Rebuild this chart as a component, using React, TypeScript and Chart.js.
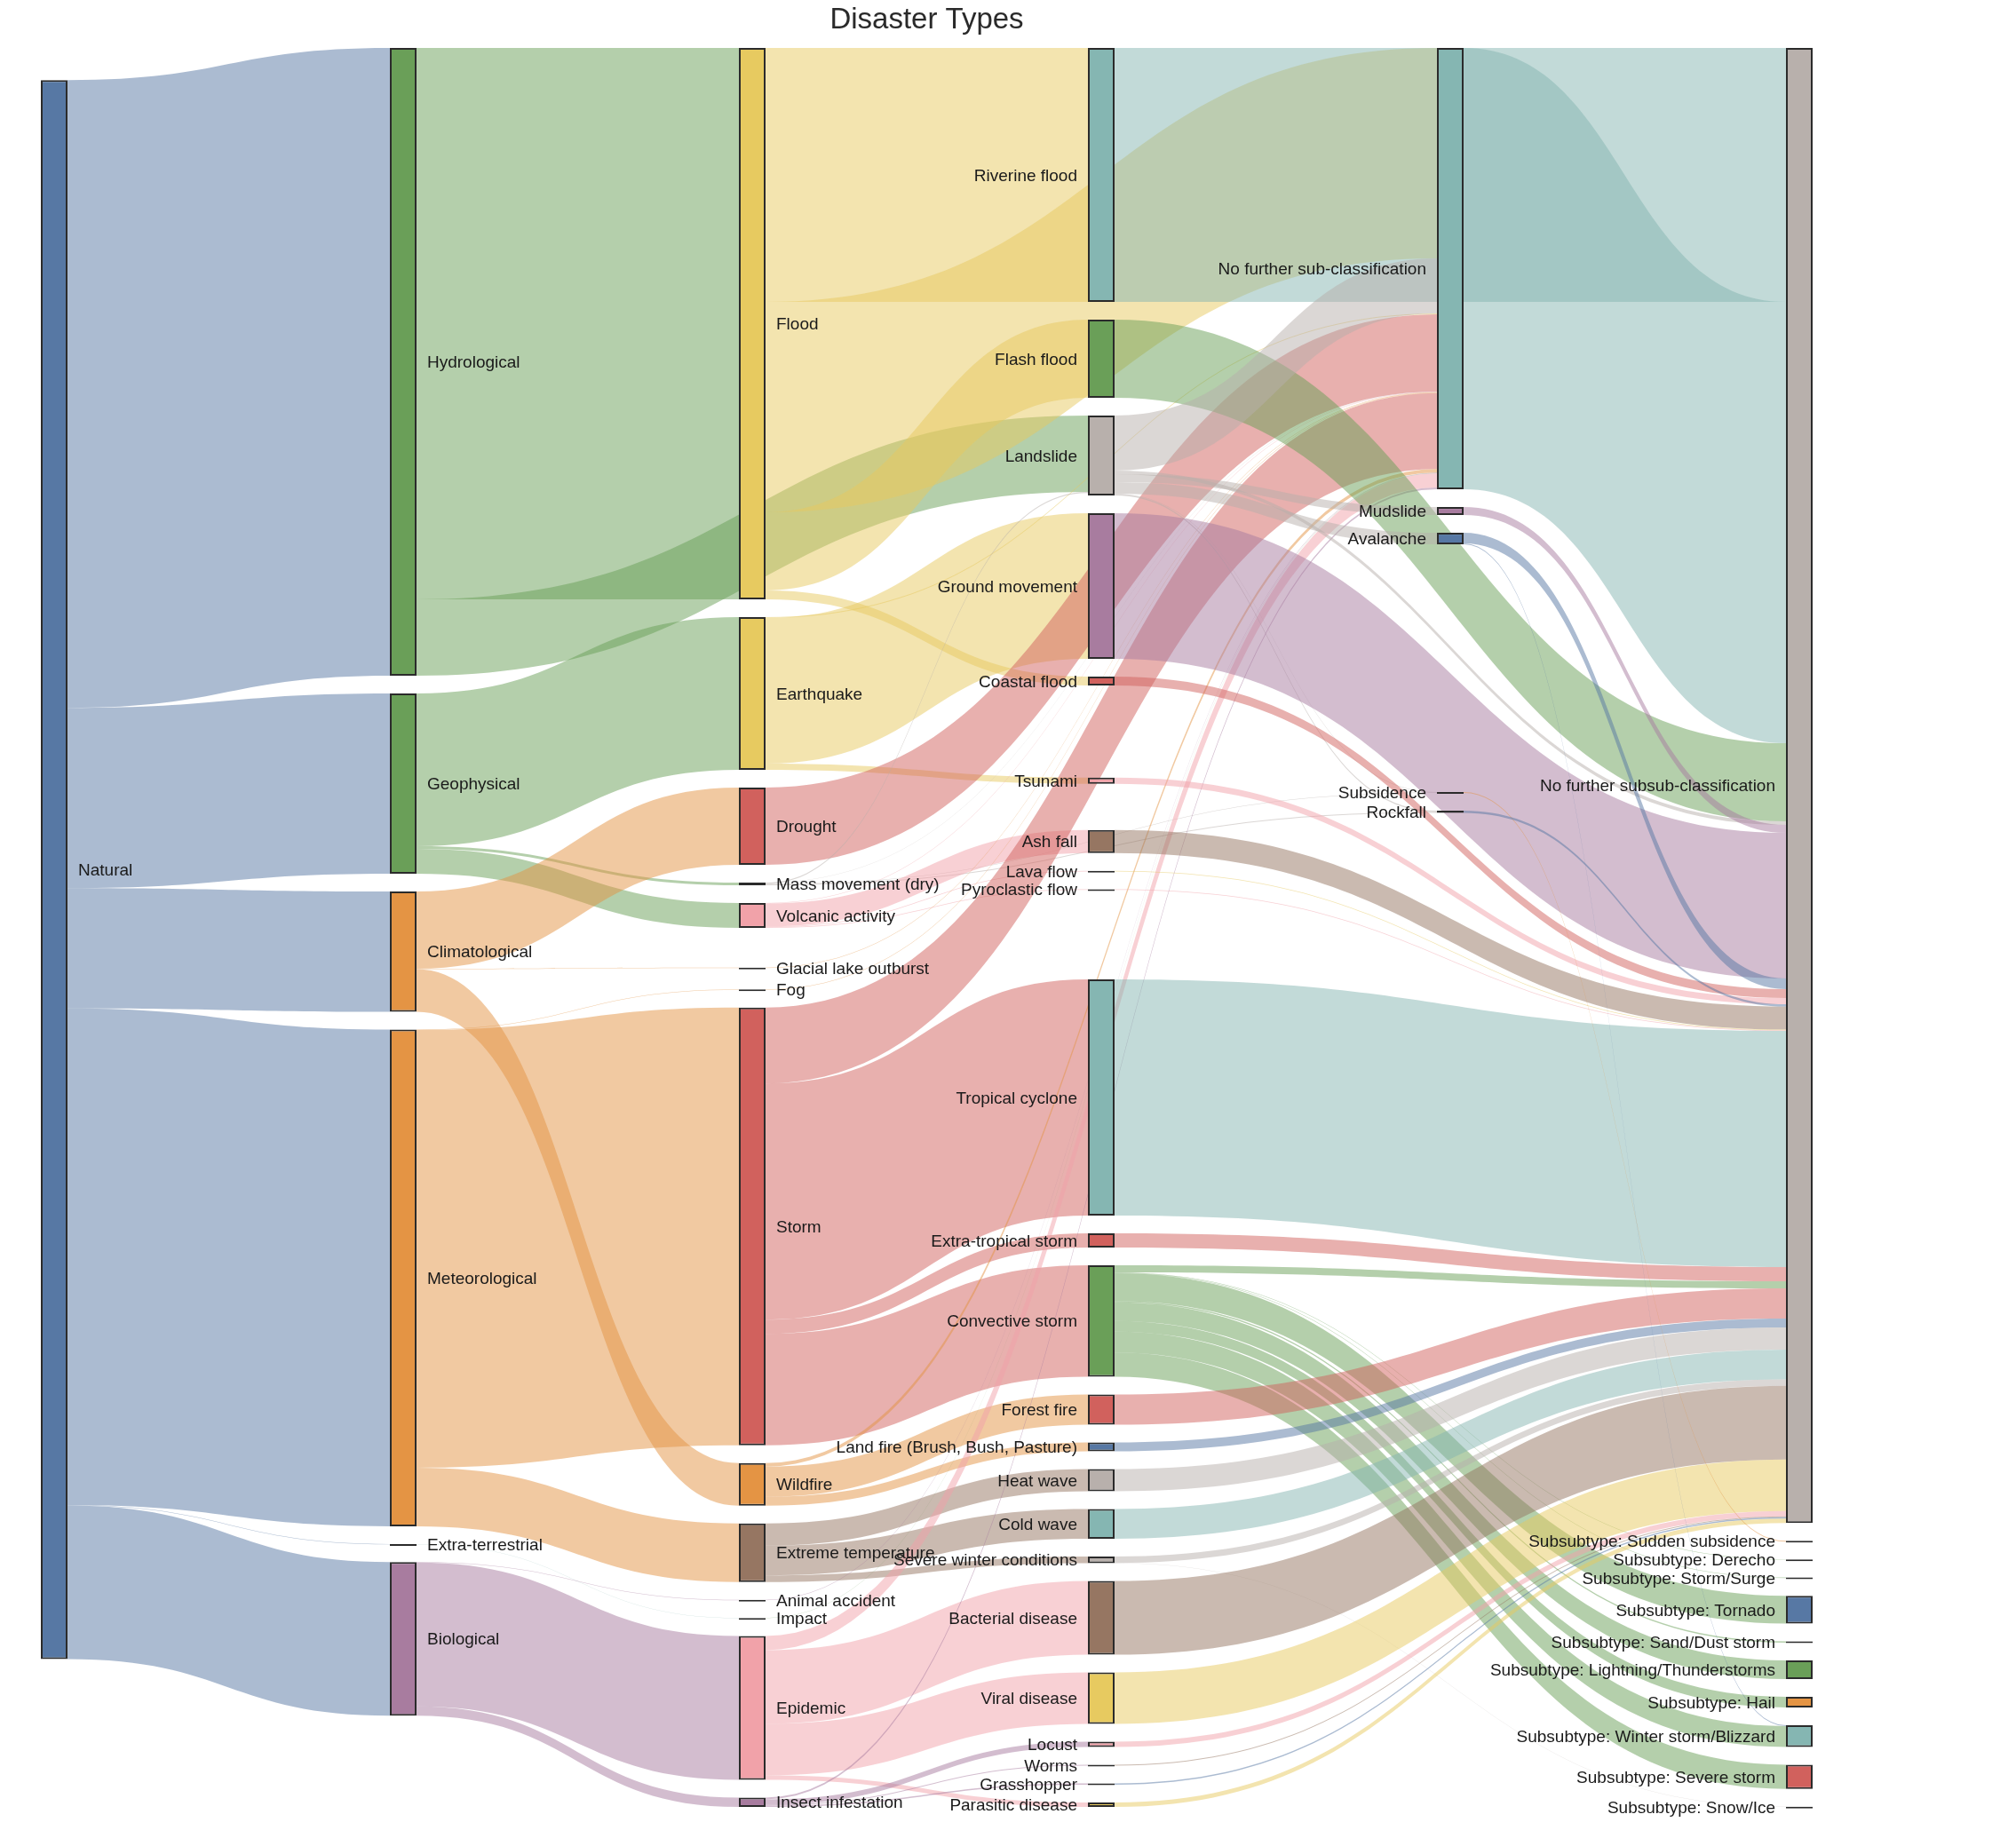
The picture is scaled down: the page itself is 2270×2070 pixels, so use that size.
import React, { useEffect, useRef } from "react";
import { Chart, registerables } from "chart.js";

Chart.register(...registerables);

// ---------- palette ----------
const BLUE = "#5778a4";
const ORANGE = "#e49444";
const RED = "#d1615d";
const TEAL = "#85b6b2";
const GREEN = "#6a9f58";
const YELLOW = "#e7ca60";
const PURPLE = "#a87c9f";
const PINK = "#f1a2a9";
const BROWN = "#967662";
const GRAY = "#b8b0ac";

const NFSC = "No further sub-classification";
const NFSSC = "No further subsub-classification";

// ---------- data ----------
const chartTitle = "Disaster Types";

const nodeLabels = [
  "Natural",
  "Hydrological", "Geophysical", "Climatological", "Meteorological", "Extra-terrestrial", "Biological",
  "Flood", "Earthquake", "Drought", "Mass movement (dry)", "Volcanic activity", "Glacial lake outburst", "Fog",
  "Storm", "Wildfire", "Extreme temperature", "Animal accident", "Impact", "Epidemic", "Insect infestation",
  "Riverine flood", "Flash flood", "Landslide", "Ground movement", "Coastal flood", "Tsunami", "Ash fall",
  "Lava flow", "Pyroclastic flow", "Tropical cyclone", "Extra-tropical storm", "Convective storm", "Forest fire",
  "Land fire (Brush, Bush, Pasture)", "Heat wave", "Cold wave", "Severe winter conditions", "Bacterial disease",
  "Viral disease", "Locust", "Worms", "Grasshopper", "Parasitic disease",
  NFSC, "Mudslide", "Avalanche", "Subsidence", "Rockfall",
  NFSSC, "Subsubtype: Sudden subsidence", "Subsubtype: Derecho", "Subsubtype: Storm/Surge", "Subsubtype: Tornado",
  "Subsubtype: Sand/Dust storm", "Subsubtype: Lightning/Thunderstorms", "Subsubtype: Hail",
  "Subsubtype: Winter storm/Blizzard", "Subsubtype: Severe storm", "Subsubtype: Snow/Ice",
];

const nodeColors = [
  BLUE,
  GREEN, GREEN, ORANGE, ORANGE, TEAL, PURPLE,
  YELLOW, YELLOW, RED, GRAY, PINK, ORANGE, ORANGE,
  RED, ORANGE, BROWN, PURPLE, GREEN, PINK, PURPLE,
  TEAL, GREEN, GRAY, PURPLE, RED, PINK, BROWN,
  YELLOW, PINK, TEAL, RED, GREEN, RED,
  BLUE, GRAY, TEAL, GRAY, BROWN,
  YELLOW, PINK, BROWN, BLUE, YELLOW,
  TEAL, PURPLE, BLUE, ORANGE, BLUE,
  GRAY, GRAY, GRAY, GRAY, BLUE,
  GRAY, GREEN, ORANGE,
  TEAL, RED, GRAY,
];

const linkSource = [
  "Natural", "Natural", "Natural", "Natural", "Natural", "Natural",
  "Hydrological", "Hydrological",
  "Geophysical", "Geophysical", "Geophysical",
  "Climatological", "Climatological", "Climatological",
  "Meteorological", "Meteorological", "Meteorological",
  "Extra-terrestrial",
  "Biological", "Biological", "Biological",
  "Flood", "Flood", "Flood", "Flood",
  "Earthquake", "Earthquake", "Earthquake",
  "Drought",
  "Mass movement (dry)", "Mass movement (dry)", "Mass movement (dry)", "Mass movement (dry)",
  "Volcanic activity", "Volcanic activity", "Volcanic activity", "Volcanic activity",
  "Glacial lake outburst",
  "Fog",
  "Storm", "Storm", "Storm", "Storm",
  "Wildfire", "Wildfire", "Wildfire",
  "Extreme temperature", "Extreme temperature", "Extreme temperature",
  "Animal accident",
  "Impact",
  "Epidemic", "Epidemic", "Epidemic", "Epidemic",
  "Insect infestation", "Insect infestation", "Insect infestation", "Insect infestation",
  "Riverine flood",
  "Flash flood",
  "Landslide", "Landslide", "Landslide", "Landslide", "Landslide", "Landslide",
  "Ground movement",
  "Coastal flood",
  "Tsunami",
  "Ash fall",
  "Lava flow",
  "Pyroclastic flow",
  "Tropical cyclone",
  "Extra-tropical storm",
  "Convective storm", "Convective storm", "Convective storm", "Convective storm", "Convective storm",
  "Convective storm", "Convective storm", "Convective storm", "Convective storm",
  "Forest fire",
  "Land fire (Brush, Bush, Pasture)",
  "Heat wave",
  "Cold wave",
  "Severe winter conditions", "Severe winter conditions",
  "Bacterial disease",
  "Viral disease",
  "Locust",
  "Worms",
  "Grasshopper",
  "Parasitic disease",
  NFSC,
  "Mudslide",
  "Avalanche", "Avalanche",
  "Subsidence",
  "Rockfall",
];

const linkTarget = [
  "Hydrological", "Geophysical", "Climatological", "Meteorological", "Extra-terrestrial", "Biological",
  "Flood", "Landslide",
  "Earthquake", "Mass movement (dry)", "Volcanic activity",
  "Drought", "Glacial lake outburst", "Wildfire",
  "Fog", "Storm", "Extreme temperature",
  "Impact",
  "Animal accident", "Epidemic", "Insect infestation",
  "Riverine flood", NFSC, "Flash flood", "Coastal flood",
  "Ground movement", "Tsunami", NFSC,
  NFSC,
  "Landslide", "Subsidence", "Rockfall", NFSC,
  "Ash fall", "Lava flow", "Pyroclastic flow", NFSC,
  NFSC,
  NFSC,
  "Tropical cyclone", "Extra-tropical storm", "Convective storm", NFSC,
  "Forest fire", "Land fire (Brush, Bush, Pasture)", NFSC,
  "Heat wave", "Cold wave", "Severe winter conditions",
  NFSC,
  NFSC,
  "Bacterial disease", "Viral disease", "Parasitic disease", NFSC,
  "Locust", "Worms", "Grasshopper", NFSC,
  NFSSC,
  NFSSC,
  NFSC, NFSSC, "Mudslide", "Avalanche", "Subsidence", "Rockfall",
  NFSSC,
  NFSSC,
  NFSSC,
  NFSSC,
  NFSSC,
  NFSSC,
  NFSSC,
  NFSSC,
  NFSSC, "Subsubtype: Derecho", "Subsubtype: Storm/Surge", "Subsubtype: Tornado", "Subsubtype: Sand/Dust storm",
  "Subsubtype: Lightning/Thunderstorms", "Subsubtype: Hail", "Subsubtype: Winter storm/Blizzard", "Subsubtype: Severe storm",
  NFSSC,
  NFSSC,
  NFSSC,
  NFSSC,
  NFSSC, "Subsubtype: Snow/Ice",
  NFSSC,
  NFSSC,
  NFSSC,
  NFSSC,
  NFSSC,
  NFSSC,
  NFSSC,
  NFSSC,
  NFSSC, "Subsubtype: Winter storm/Blizzard",
  "Subsubtype: Sudden subsidence",
  NFSSC,
];

const linkValue = [
  7070, 2030, 1355, 5595, 3, 1730,
  6210, 860,
  1720, 30, 280,
  870, 5, 480,
  5, 4930, 660,
  3,
  5, 1620, 105,
  2860, 2370, 880, 100,
  1640, 70, 10,
  870,
  12, 5, 10, 3,
  260, 8, 7, 5,
  5,
  5,
  2660, 160, 1255, 855,
  340, 100, 40,
  250, 335, 75,
  5,
  3,
  830, 580, 50, 160,
  60, 10, 15, 20,
  2860,
  880,
  620, 40, 90, 130, 5, 15,
  1640,
  100,
  70,
  260,
  8,
  7,
  2660,
  160,
  80, 4, 6, 313, 15,
  210, 120, 235, 272,
  340,
  100,
  250,
  335,
  72, 3,
  830,
  580,
  60,
  10,
  15,
  50,
  4971,
  90,
  120, 10,
  10,
  25,
];

// ---------- layout (in scale units) ----------
const DOMAIN_W = 1995;
const DOMAIN_H = 1981;
const NODE_THICKNESS = 30;
const NODE_PAD = 20;
const ITERATIONS = 6;

type SNode = {
  index: number; label: string; color: string;
  sourceLinks: SLink[]; targetLinks: SLink[];
  value: number; depth: number; col: number;
  x0: number; x1: number; y0: number; y1: number;
};
type SLink = {
  index: number; source: SNode; target: SNode; value: number;
  width: number; y0: number; y1: number;
};

function computeSankey() {
  const nodes: SNode[] = nodeLabels.map((label, i) => ({
    index: i, label, color: nodeColors[i], sourceLinks: [], targetLinks: [],
    value: 0, depth: 0, col: 0, x0: 0, x1: 0, y0: 0, y1: 0,
  }));
  const byLabel = new Map<string, SNode>();
  nodes.forEach((n) => byLabel.set(n.label, n));
  const links: SLink[] = [];
  linkSource.forEach((s, i) => {
    const src = byLabel.get(s);
    const tgt = byLabel.get(linkTarget[i]);
    if (!src || !tgt || !(linkValue[i] > 0)) return;
    const l: SLink = { index: i, source: src, target: tgt, value: linkValue[i], width: 0, y0: 0, y1: 0 };
    links.push(l);
    src.sourceLinks.push(l);
    tgt.targetLinks.push(l);
  });
  const sumV = (arr: SLink[]) => arr.reduce((a, l) => a + l.value, 0);
  nodes.forEach((n) => { n.value = Math.max(sumV(n.sourceLinks), sumV(n.targetLinks)); });

  // depths (longest path from a source)
  let current = nodes.slice();
  let x = 0;
  while (current.length && x < 50) {
    const next: SNode[] = [];
    current.forEach((n) => {
      n.depth = x;
      n.sourceLinks.forEach((l) => { if (next.indexOf(l.target) < 0) next.push(l.target); });
    });
    current = next;
    x++;
  }
  const nCols = x;
  const kx = (DOMAIN_W - NODE_THICKNESS) / (nCols - 1);
  nodes.forEach((n) => {
    n.col = n.sourceLinks.length ? n.depth : nCols - 1;
    n.x0 = n.col * kx;
    n.x1 = n.x0 + NODE_THICKNESS;
  });
  const columns: SNode[][] = [];
  for (let c = 0; c < nCols; c++) {
    const col = nodes.filter((n) => n.col === c);
    if (col.length) columns.push(col);
  }
  const maxLen = Math.max(...columns.map((c) => c.length));
  const py = Math.min(NODE_PAD, DOMAIN_H / (maxLen - 1));
  const ky = Math.min(...columns.map((col) => (DOMAIN_H - (col.length - 1) * py) / col.reduce((a, n) => a + n.value, 0)));

  const byTarget = (a: SLink, b: SLink) => (a.target.y0 - b.target.y0) || (a.index - b.index);
  const bySource = (a: SLink, b: SLink) => (a.source.y0 - b.source.y0) || (a.index - b.index);
  const reorderLinks = (col: SNode[]) => col.forEach((n) => { n.sourceLinks.sort(byTarget); n.targetLinks.sort(bySource); });
  const reorderNodeLinks = (n: SNode) => {
    n.targetLinks.forEach((l) => l.source.sourceLinks.sort(byTarget));
    n.sourceLinks.forEach((l) => l.target.targetLinks.sort(bySource));
  };

  // initial breadths: stacked, remaining space shared out evenly
  columns.forEach((col) => {
    let y = 0;
    col.forEach((n) => {
      n.y0 = y;
      n.y1 = y + n.value * ky;
      y = n.y1 + py;
      n.sourceLinks.forEach((l) => { l.width = l.value * ky; });
    });
    const gap = (DOMAIN_H - y + py) / (col.length + 1);
    col.forEach((n, i) => { n.y0 += gap * (i + 1); n.y1 += gap * (i + 1); });
    reorderLinks(col);
  });

  const targetTop = (source: SNode, target: SNode) => {
    let y = source.y0 - (source.sourceLinks.length - 1) * py / 2;
    for (const l of source.sourceLinks) { if (l.target === target) break; y += l.width + py; }
    for (const l of target.targetLinks) { if (l.source === source) break; y -= l.width; }
    return y;
  };
  const sourceTop = (source: SNode, target: SNode) => {
    let y = target.y0 - (target.targetLinks.length - 1) * py / 2;
    for (const l of target.targetLinks) { if (l.source === source) break; y += l.width + py; }
    for (const l of source.sourceLinks) { if (l.target === target) break; y -= l.width; }
    return y;
  };
  const topToBottom = (col: SNode[], y: number, i: number, a: number) => {
    for (; i < col.length; ++i) {
      const n = col[i];
      const dy = (y - n.y0) * a;
      if (dy > 1e-6) { n.y0 += dy; n.y1 += dy; }
      y = n.y1 + py;
    }
  };
  const bottomToTop = (col: SNode[], y: number, i: number, a: number) => {
    for (; i >= 0; --i) {
      const n = col[i];
      const dy = (n.y1 - y) * a;
      if (dy > 1e-6) { n.y0 -= dy; n.y1 -= dy; }
      y = n.y0 - py;
    }
  };
  const resolveCollisions = (col: SNode[], a: number) => {
    const i = col.length >> 1;
    const subject = col[i];
    bottomToTop(col, subject.y0 - py, i - 1, a);
    topToBottom(col, subject.y1 + py, i + 1, a);
    bottomToTop(col, DOMAIN_H, col.length - 1, a);
    topToBottom(col, 0, 0, a);
  };
  // node order inside each column is kept as listed
  const relaxLeftToRight = (alpha: number, beta: number) => {
    for (let i = 1; i < columns.length; ++i) {
      const col = columns[i];
      for (const target of col) {
        let y = 0;
        let w = 0;
        for (const l of target.targetLinks) {
          const v = l.value * (target.col - l.source.col);
          y += targetTop(l.source, target) * v;
          w += v;
        }
        if (!(w > 0)) continue;
        const dy = (y / w - target.y0) * alpha;
        target.y0 += dy; target.y1 += dy;
        reorderNodeLinks(target);
      }
      resolveCollisions(col, beta);
    }
  };
  const relaxRightToLeft = (alpha: number, beta: number) => {
    for (let i = columns.length - 2; i >= 0; --i) {
      const col = columns[i];
      for (const source of col) {
        let y = 0;
        let w = 0;
        for (const l of source.sourceLinks) {
          const v = l.value * (l.target.col - source.col);
          y += sourceTop(source, l.target) * v;
          w += v;
        }
        if (!(w > 0)) continue;
        const dy = (y / w - source.y0) * alpha;
        source.y0 += dy; source.y1 += dy;
        reorderNodeLinks(source);
      }
      resolveCollisions(col, beta);
    }
  };

  for (let i = 0; i < ITERATIONS; ++i) {
    const alpha = Math.pow(0.99, i);
    const beta = Math.max(1 - alpha, (i + 1) / ITERATIONS);
    relaxRightToLeft(alpha, beta);
    relaxLeftToRight(alpha, beta);
  }

  // final link stacking follows the final node positions
  nodes.forEach((n) => { n.sourceLinks.sort(byTarget); n.targetLinks.sort(bySource); });
  nodes.forEach((n) => {
    let y0 = n.y0;
    let y1 = n.y0;
    n.sourceLinks.forEach((l) => { l.y0 = y0 + l.width / 2; y0 += l.width; });
    n.targetLinks.forEach((l) => { l.y1 = y1 + l.width / 2; y1 += l.width; });
  });
  return { nodes, links };
}

function withAlpha(hex: string, a: number) {
  const h = hex.replace("#", "");
  const r = parseInt(h.slice(0, 2), 16);
  const g = parseInt(h.slice(2, 4), 16);
  const b = parseInt(h.slice(4, 6), 16);
  return `rgba(${r},${g},${b},${a})`;
}

const LABEL_FONT = '19px "Liberation Sans", Arial, sans-serif';
const TITLE_FONT = '33px "Liberation Sans", Arial, sans-serif';

export default function App() {
  const canvasRef = useRef<HTMLCanvasElement>(null);

  useEffect(() => {
    const canvas = canvasRef.current;
    if (!canvas) return;
    const { nodes, links } = computeSankey();

    const sankeyPlugin = {
      id: "sankeyLinksAndLabels",
      beforeDatasetsDraw(chart: any) {
        const ctx: CanvasRenderingContext2D = chart.ctx;
        const xs = chart.scales.x;
        const ys = chart.scales.y;
        ctx.save();
        links.forEach((l) => {
          const xa = xs.getPixelForValue(l.source.x1);
          const xb = xs.getPixelForValue(l.target.x0);
          const xm = xa + (xb - xa) * 0.5;
          const ya0 = ys.getPixelForValue(l.y0 - l.width / 2);
          const yb0 = ys.getPixelForValue(l.y0 + l.width / 2);
          const ya1 = ys.getPixelForValue(l.y1 - l.width / 2);
          const yb1 = ys.getPixelForValue(l.y1 + l.width / 2);
          ctx.beginPath();
          ctx.moveTo(xa, ya0);
          ctx.bezierCurveTo(xm, ya0, xm, ya1, xb, ya1);
          ctx.lineTo(xb, yb1);
          ctx.bezierCurveTo(xm, yb1, xm, yb0, xa, yb0);
          ctx.closePath();
          ctx.fillStyle = withAlpha(l.source.color, 0.5);
          ctx.fill();
        });
        ctx.restore();
      },
      afterDatasetsDraw(chart: any) {
        const ctx: CanvasRenderingContext2D = chart.ctx;
        const xs = chart.scales.x;
        const ys = chart.scales.y;
        ctx.save();
        ctx.font = LABEL_FONT;
        ctx.fillStyle = "#1a1a1a";
        ctx.textBaseline = "alphabetic";
        nodes.forEach((n) => {
          const cy = ys.getPixelForValue((n.y0 + n.y1) / 2) + 19 * 0.35;
          const onLeft = (n.x0 + n.x1) / 2 > DOMAIN_W / 2;
          if (onLeft) {
            ctx.textAlign = "right";
            ctx.fillText(n.label, xs.getPixelForValue(n.x0) - 12, cy);
          } else {
            ctx.textAlign = "left";
            ctx.fillText(n.label, xs.getPixelForValue(n.x1) + 12, cy);
          }
        });
        ctx.font = TITLE_FONT;
        ctx.fillStyle = "#2a2a2a";
        ctx.textAlign = "center";
        ctx.fillText(chartTitle, (chart.chartArea.left + chart.chartArea.right) / 2, 32);
        ctx.restore();
      },
    };

    const chart = new Chart(canvas, {
      type: "bar",
      data: {
        datasets: [
          {
            data: nodes.map((n) => ({ x: (n.x0 + n.x1) / 2, y: [n.y0, n.y1] })) as any,
            backgroundColor: nodes.map((n) => n.color),
            borderColor: "#2b2b2b",
            borderWidth: 2,
            borderSkipped: false,
            barThickness: NODE_THICKNESS,
            minBarLength: 2,
            inflateAmount: 0,
            clip: false,
          } as any,
        ],
      },
      options: {
        responsive: false,
        animation: false,
        devicePixelRatio: 1,
        events: [],
        layout: { padding: { left: 46, right: 229, top: 54, bottom: 35 } },
        plugins: {
          legend: { display: false },
          tooltip: { enabled: false },
          title: { display: false },
        },
        scales: {
          x: { type: "linear", min: 0, max: DOMAIN_W, display: false, offset: false },
          y: { type: "linear", min: 0, max: DOMAIN_H, reverse: true, display: false },
        },
      } as any,
      plugins: [sankeyPlugin],
    });
    return () => chart.destroy();
  }, []);

  return (
    <div style={{ position: "absolute", left: 0, top: 0, width: 2270, height: 2070, background: "#ffffff" }}>
      <canvas ref={canvasRef} width={2270} height={2070} style={{ width: 2270, height: 2070, display: "block" }} />
    </div>
  );
}
